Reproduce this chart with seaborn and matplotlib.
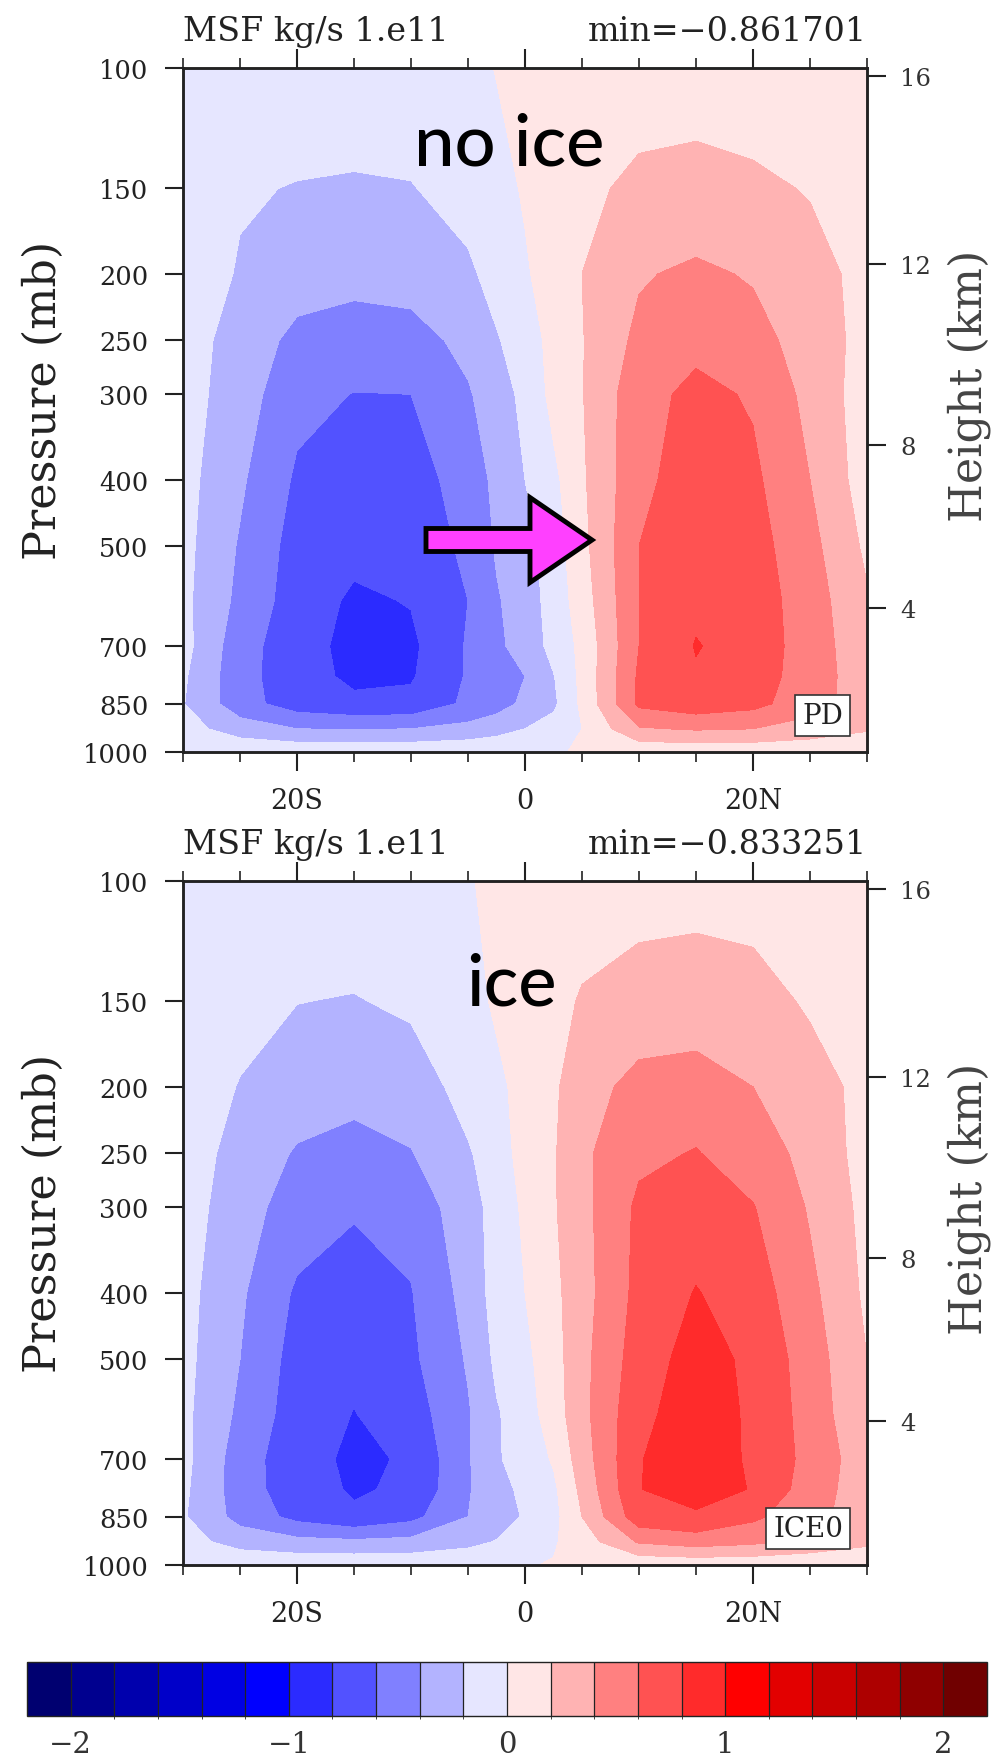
"""
MSF (kg/s 1.e11) enlem-basinc kesiti: PD ve ICE0 karsilastirmasi
"""

import numpy as np
import matplotlib
matplotlib.use("Agg")
import matplotlib.pyplot as plt
from matplotlib.colors import ListedColormap, BoundaryNorm
from matplotlib.patches import FancyArrow
from matplotlib.ticker import FixedLocator, NullLocator, MultipleLocator
import seaborn as sns

# --- veri ---
lat = [-30, -25, -20, -15, -10, -5, -2.5, 0, 2.5, 5, 10, 15, 20, 25, 30]
plev = [100, 150, 200, 250, 300, 400, 500, 600, 700, 775, 850, 925, 1000]

msf_pd = [
    [-0.02, -0.05, -0.08, -0.10, -0.08, -0.04, 0.005, 0.03, 0.05, 0.07, 0.10, 0.13, 0.12, 0.08, 0.04],
    [-0.08, -0.18, -0.21, -0.22, -0.21, -0.12, -0.05, 0.015, 0.06, 0.15, 0.25, 0.255, 0.23, 0.19, 0.10],
    [-0.06, -0.22, -0.32, -0.34, -0.33, -0.24, -0.12, -0.02, 0.08, 0.20, 0.38, 0.44, 0.38, 0.26, 0.15],
    [-0.10, -0.29, -0.45, -0.50, -0.47, -0.35, -0.22, -0.08, 0.05, 0.19, 0.45, 0.55, 0.48, 0.30, 0.14],
    [-0.12, -0.30, -0.55, -0.605, -0.60, -0.42, -0.30, -0.145, 0.055, 0.19, 0.53, 0.65, 0.58, 0.34, 0.10],
    [-0.13, -0.37, -0.63, -0.70, -0.68, -0.52, -0.35, -0.20, -0.05, 0.17, 0.55, 0.70, 0.64, 0.40, 0.10],
    [-0.14, -0.42, -0.68, -0.75, -0.72, -0.56, -0.38, -0.28, -0.10, 0.14, 0.60, 0.74, 0.68, 0.46, 0.16],
    [-0.15, -0.45, -0.70, -0.83, -0.79, -0.60, -0.42, -0.30, -0.12, 0.10, 0.60, 0.76, 0.70, 0.50, 0.22],
    [-0.13, -0.52, -0.72, -0.86, -0.84, -0.58, -0.44, -0.32, -0.14, 0.05, 0.60, 0.81, 0.72, 0.50, 0.27],
    [-0.17, -0.53, -0.72, -0.84, -0.82, -0.58, -0.46, -0.40, -0.21, 0.05, 0.63, 0.78, 0.70, 0.50, 0.29],
    [-0.19, -0.52, -0.70, -0.76, -0.75, -0.56, -0.48, -0.36, -0.24, 0.04, 0.64, 0.72, 0.66, 0.48, 0.30],
    [-0.12, -0.30, -0.40, -0.41, -0.40, -0.34, -0.28, -0.20, -0.12, 0.00, 0.38, 0.42, 0.40, 0.32, 0.22],
    [-0.02, -0.04, -0.05, -0.05, -0.05, -0.04, -0.03, -0.02, -0.01, 0.01, 0.04, 0.05, 0.05, 0.04, 0.03],
]

msf_ice = [
    [-0.02, -0.05, -0.08, -0.09, -0.07, -0.01, 0.03, 0.06, 0.08, 0.10, 0.14, 0.15, 0.14, 0.09, 0.05],
    [-0.07, -0.14, -0.197, -0.21, -0.17, -0.06, 0.023, 0.07, 0.13, 0.22, 0.27, 0.28, 0.26, 0.18, 0.10],
    [-0.08, -0.21, -0.30, -0.34, -0.30, -0.13, -0.04, 0.06, 0.17, 0.31, 0.47, 0.50, 0.40, 0.27, 0.15],
    [-0.10, -0.27, -0.42, -0.47, -0.41, -0.22, -0.10, 0.08, 0.18, 0.36, 0.56, 0.61, 0.50, 0.34, 0.12],
    [-0.11, -0.31, -0.50, -0.58, -0.54, -0.27, -0.14, 0.04, 0.18, 0.34, 0.64, 0.70, 0.61, 0.38, 0.14],
    [-0.13, -0.37, -0.63, -0.70, -0.61, -0.33, -0.12, 0.00, 0.15, 0.32, 0.66, 0.81, 0.70, 0.45, 0.16],
    [-0.14, -0.40, -0.68, -0.76, -0.64, -0.38, -0.16, -0.05, 0.12, 0.34, 0.70, 0.88, 0.76, 0.50, 0.20],
    [-0.15, -0.44, -0.70, -0.805, -0.70, -0.42, -0.22, -0.09, 0.10, 0.34, 0.75, 0.90, 0.77, 0.52, 0.22],
    [-0.14, -0.50, -0.73, -0.835, -0.78, -0.42, -0.22, -0.12, 0.02, 0.30, 0.79, 0.915, 0.77, 0.54, 0.28],
    [-0.16, -0.50, -0.72, -0.82, -0.77, -0.42, -0.26, -0.16, -0.04, 0.25, 0.795, 0.88, 0.79, 0.50, 0.29],
    [-0.18, -0.47, -0.66, -0.77, -0.66, -0.40, -0.30, -0.18, -0.06, 0.20, 0.72, 0.77, 0.64, 0.46, 0.30],
    [-0.12, -0.28, -0.34, -0.36, -0.34, -0.26, -0.19, -0.10, -0.02, 0.10, 0.42, 0.49, 0.44, 0.34, 0.24],
    [-0.02, -0.04, -0.05, -0.05, -0.05, -0.03, -0.02, -0.01, 0.01, 0.02, 0.04, 0.05, 0.05, 0.04, 0.03],
]

min_pd = "-0.861701"
min_ice = "-0.833251"

levels = [-2.0, -1.8, -1.6, -1.4, -1.2, -1.0, -0.8, -0.6, -0.4, -0.2, 0.0,
          0.2, 0.4, 0.6, 0.8, 1.0, 1.2, 1.4, 1.6, 1.8, 2.0]
colores = ['#000070', '#00008f', '#0000ad', '#0000c9', '#0000e3', '#0000ff',
           '#2b2bff', '#5252ff', '#8080ff', '#b3b3ff', '#e6e6ff', '#ffe6e6',
           '#ffb3b3', '#ff8080', '#ff5252', '#ff2b2b', '#ff0000', '#e30000',
           '#c90000', '#ad0000', '#8f0000', '#700000']

p_ticks = [100, 150, 200, 250, 300, 400, 500, 700, 850, 1000]
lat_ticks = [-20, 0, 20]
lat_labels = ['20S', '0', '20N']
z_ticks = [16, 12, 8, 4]
cb_ticks = [-2, -1, 0, 1, 2]

W, H = 1001, 1758
TXT = '#222222'

sns.set_style("ticks")
plt.rcParams['font.family'] = ['DejaVu Serif']
plt.rcParams['axes.linewidth'] = 1.8
plt.rcParams['axes.edgecolor'] = TXT
plt.rcParams['text.color'] = TXT

pal = sns.color_palette(colores)
cmap = ListedColormap(pal[1:-1])
cmap.set_under(pal[0])
cmap.set_over(pal[-1])
norm = BoundaryNorm(levels, cmap.N)


def z2p(z):
    """standart atmosfer: km -> hPa"""
    z = np.asarray(z, dtype=float)
    tropo = 1013.25 * np.clip(1 - 0.0065 * z * 1000 / 288.15, 0, None) ** 5.25588
    strato = 226.32 * np.exp(-(z - 11) * 1000 / 6341.6)
    return np.where(z <= 11, tropo, strato)


def panel(ax, campo, minval, etiket):
    cf = ax.contourf(lat, plev, np.array(campo), levels=levels, cmap=cmap,
                     norm=norm, extend='both')
    ax.set_yscale('log')
    ax.set_ylim(1000, 100)
    ax.set_xlim(-30, 30)

    ax.yaxis.set_major_locator(FixedLocator(p_ticks))
    ax.yaxis.set_minor_locator(NullLocator())
    ax.set_yticklabels([str(p) for p in p_ticks])
    ax.set_xticks(lat_ticks)
    ax.set_xticklabels(lat_labels)
    ax.xaxis.set_minor_locator(MultipleLocator(5))

    ax.tick_params(axis='x', which='both', top=True, bottom=True, direction='out', color=TXT)
    ax.tick_params(axis='x', which='major', length=14, width=1.5, pad=11, labelsize=19.5, labelcolor=TXT)
    ax.tick_params(axis='x', which='minor', length=7, width=1.2)
    ax.tick_params(axis='y', which='major', left=True, right=False, direction='out',
                   length=13, width=1.5, pad=12, labelsize=18.5, labelcolor=TXT, color=TXT)

    ax.set_ylabel('Pressure (mb)', fontsize=32, color=TXT)
    ax.yaxis.set_label_coords(-0.172, 0.515)

    # sag eksen: yukseklik (km)
    ax2 = ax.twinx()
    ax2.set_yscale('log')
    ax2.set_ylim(1000, 100)
    ax2.yaxis.set_major_locator(FixedLocator(z2p(z_ticks)))
    ax2.yaxis.set_minor_locator(NullLocator())
    ax2.set_yticklabels([str(z) for z in z_ticks])
    ax2.tick_params(axis='y', which='major', direction='out', length=14, width=1.5,
                    pad=10, labelsize=17.5, labelcolor='#333333', color=TXT)
    ax2.set_ylabel('Height (km)', fontsize=32, color='#444444')
    ax2.yaxis.set_label_coords(1.118, 0.537)

    ax.text(0.0, 1.041, 'MSF kg/s 1.e11', transform=ax.transAxes,
            ha='left', va='baseline', fontsize=24)
    ax.text(1.0, 1.041, 'min=' + minval.replace('-', '\u2212'), transform=ax.transAxes,
            ha='right', va='baseline', fontsize=24)
    ax.text(0.965, 0.034, etiket, transform=ax.transAxes, ha='right', va='bottom',
            fontsize=20, zorder=5,
            bbox=dict(boxstyle='square,pad=0.25', fc='white', ec='#333333', lw=1.2))
    return cf


fig = plt.figure(figsize=(W / 100, H / 100), dpi=100)
ax_top = fig.add_axes([183 / W, 1 - 753 / H, 684 / W, 684 / H])
ax_bot = fig.add_axes([183 / W, 1 - 1566 / H, 684 / W, 684 / H])

cf = panel(ax_top, msf_pd, min_pd, 'PD')
panel(ax_bot, msf_ice, min_ice, 'ICE0')

# renk cubugu (uzantilar dahil tum genislik)
cax = fig.add_axes([27 / W, 1 - 1717 / H, 960 / W, 54 / H])
cb = fig.colorbar(cf, cax=cax, orientation='horizontal', extend='both',
                  extendrect=True, drawedges=True, ticks=cb_ticks)
cb.ax.tick_params(length=0, labelsize=21, pad=10, labelcolor='#333333')
cb.outline.set_linewidth(1.0)
cb.dividers.set_linewidth(0.9)
cb.dividers.set_color('#222222')

# ek aciklamalar
fig.text(509 / W, 1 - 166 / H, 'no ice', ha='center', va='baseline', fontweight='medium',
         fontsize=52, family=['Lato', 'DejaVu Sans'], color='black')
fig.text(511 / W, 1 - 1006 / H, 'ice', ha='center', va='baseline', fontweight='medium',
         fontsize=52, family=['Lato', 'DejaVu Sans'], color='black')

ok = FancyArrow(426 / W, 1 - 541 / H, 166 / W, 0, width=23 / H, head_width=85 / H,
                head_length=62 / W, length_includes_head=True, transform=fig.transFigure,
                fc='#ff40ff', ec='black', lw=3.5, joinstyle='miter', zorder=10)
fig.add_artist(ok)

fig.savefig('out.png', dpi=100)
print("out.png kaydedildi")
